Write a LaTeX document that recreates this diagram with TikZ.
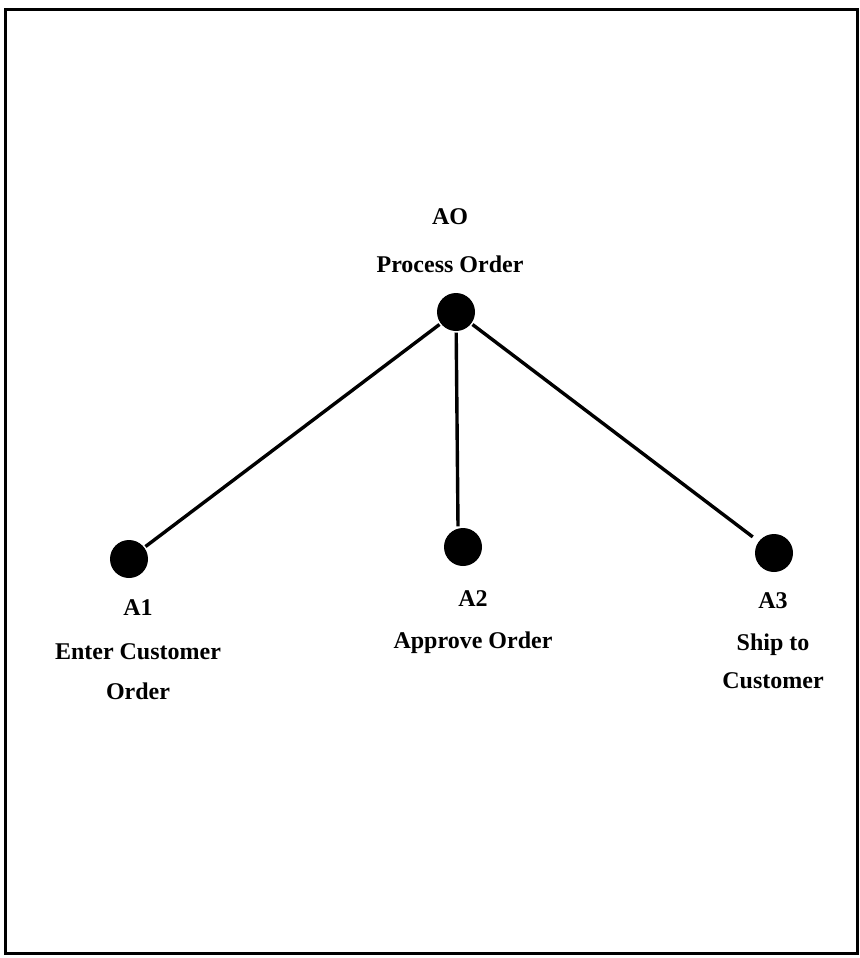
\documentclass[tikz,border=0pt]{standalone}
\usepackage{fontspec}
\setmainfont{Liberation Serif}
\begin{document}
\begin{tikzpicture}[x=0.5pt, y=-0.5pt, line width=1.7pt,
    main node/.style={circle, fill, minimum size=19pt, inner sep=0pt},
    tag/.style={font=\bfseries\fontsize{12}{14.5}\selectfont, align=center}]
        \useasboundingbox (0,0) rectangle (860,958);
        \draw[line width=1.5pt] (5,9) rectangle (857,953);
        \node[main node] (0) at (456,312) {};
        \node[main node] (1) at (129,559) {};
        \node[main node] (2) at (463,547) {};
        \node[main node] (3) at (774,553) {};
        \node[tag] (t0) at (450,241) {AO\\[9.5pt]Process Order};
        \node[tag] (t1) at (138,650) {A1\\[7.5pt]Enter Customer\\[5.5pt]Order};
        \node[tag] (t2) at (473,622) {A2\\[6.5pt]Approve Order};
        \node[tag] (t3) at (773,641) {A3\\[6.5pt]Ship to\\[4.5pt]Customer};
        \path
        (0) edge (1)
        (0) edge ([xshift=-2.5pt]2.north)
        (0) edge [shorten >=3pt] (3);
    \end{tikzpicture}
\end{document}
